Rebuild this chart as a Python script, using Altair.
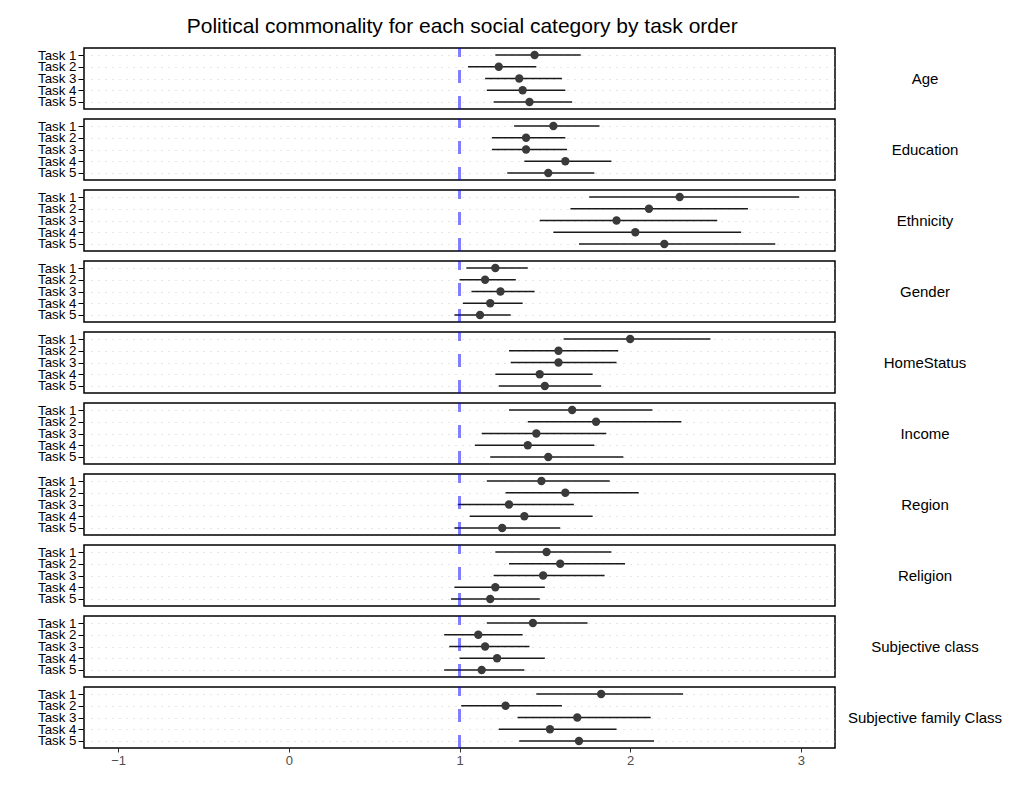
import altair as alt
import pandas as pd

# Social categories (one panel each) and task order within a panel
categories = [
    "Age", "Education", "Ethnicity", "Gender", "HomeStatus",
    "Income", "Region", "Religion", "Subjective class",
    "Subjective family Class",
]
tasks = ["Task 1", "Task 2", "Task 3", "Task 4", "Task 5"]

# Point estimates, one list per category (Task 1..5)
estimate = [
    [1.44, 1.23, 1.35, 1.37, 1.41],
    [1.55, 1.39, 1.39, 1.62, 1.52],
    [2.29, 2.11, 1.92, 2.03, 2.20],
    [1.21, 1.15, 1.24, 1.18, 1.12],
    [2.00, 1.58, 1.58, 1.47, 1.50],
    [1.66, 1.80, 1.45, 1.40, 1.52],
    [1.48, 1.62, 1.29, 1.38, 1.25],
    [1.51, 1.59, 1.49, 1.21, 1.18],
    [1.43, 1.11, 1.15, 1.22, 1.13],
    [1.83, 1.27, 1.69, 1.53, 1.70],
]
# Lower confidence bounds
lower = [
    [1.21, 1.05, 1.15, 1.16, 1.20],
    [1.32, 1.19, 1.19, 1.38, 1.28],
    [1.76, 1.65, 1.47, 1.55, 1.70],
    [1.04, 1.00, 1.07, 1.02, 0.97],
    [1.61, 1.29, 1.30, 1.21, 1.23],
    [1.29, 1.40, 1.13, 1.09, 1.18],
    [1.16, 1.27, 0.99, 1.06, 0.97],
    [1.21, 1.29, 1.20, 0.97, 0.95],
    [1.16, 0.91, 0.94, 1.00, 0.91],
    [1.45, 1.01, 1.34, 1.23, 1.35],
]
# Upper confidence bounds
upper = [
    [1.71, 1.45, 1.60, 1.62, 1.66],
    [1.82, 1.62, 1.63, 1.89, 1.79],
    [2.99, 2.69, 2.51, 2.65, 2.85],
    [1.40, 1.33, 1.44, 1.37, 1.30],
    [2.47, 1.93, 1.92, 1.78, 1.83],
    [2.13, 2.30, 1.86, 1.79, 1.96],
    [1.88, 2.05, 1.67, 1.78, 1.59],
    [1.89, 1.97, 1.85, 1.50, 1.47],
    [1.75, 1.37, 1.41, 1.50, 1.38],
    [2.31, 1.60, 2.12, 1.92, 2.14],
]
x_ticks = [-1, 0, 1, 2, 3]
reference_value = 1

rows = []
for ci, cat in enumerate(categories):
    for ti, task in enumerate(tasks):
        rows.append({
            "category": cat,
            "task": task,
            "estimate": estimate[ci][ti],
            "lower": lower[ci][ti],
            "upper": upper[ci][ti],
        })
df = pd.DataFrame(rows)

FONT = "Liberation Sans"
PANEL_W = 751
PANEL_H = 61

x_scale = alt.Scale(domain=[-1.2, 3.2], nice=False, zero=False)
y_scale = alt.Scale(type="point", domain=tasks, padding=0.6)

x_axis = alt.Axis(
    values=x_ticks, grid=False, domain=False, tickSize=4, tickColor="#333333",
    labelFontSize=13, labelColor="#4d4d4d", labelFont=FONT, labelPadding=2,
    title=None,
)
y_axis = alt.Axis(
    grid=True, gridDash=[1, 6], gridColor="#cfcfcf", gridWidth=1,
    domain=False, tickSize=6, tickColor="black", tickWidth=1,
    labelFontSize=13.3, labelColor="black", labelFont=FONT, labelPadding=2,
    title=None,
)

base = alt.Chart().encode(
    y=alt.Y("task:N", scale=y_scale, axis=y_axis),
)

intervals = base.mark_rule(color="#1a1a1a", strokeWidth=1.6).encode(
    x=alt.X("lower:Q", scale=x_scale, axis=x_axis),
    x2="upper:Q",
)

points = base.mark_circle(size=70, color="#3a3a3a", opacity=1).encode(
    x=alt.X("estimate:Q", scale=x_scale, axis=x_axis),
)

# One row per panel for the per-panel decorations
first_task = alt.Chart().transform_filter(alt.datum.task == tasks[0])

# Dashed reference line at 1, drawn bottom to top
ref_line = (
    first_task
    .transform_calculate(ref=str(reference_value))
    .mark_rule(color="#0000ff", opacity=0.5, strokeWidth=3, strokeDash=[13, 13])
    .encode(
        x=alt.X("ref:Q", scale=x_scale, axis=x_axis),
        y=alt.value(PANEL_H),
        y2=alt.value(0),
    )
)

# Category label to the right of each panel
strip_label = first_task.mark_text(
    font=FONT, fontSize=15, color="black", align="center", baseline="middle",
).encode(
    text="category:N",
    x=alt.value(PANEL_W + 90),
    y=alt.value(PANEL_H / 2),
)

chart = (
    alt.layer(intervals, points, ref_line, strip_label, data=df)
    .properties(width=PANEL_W, height=PANEL_H)
    .facet(
        row=alt.Row(
            "category:N",
            sort=categories,
            header=alt.Header(title=None, labels=False),
        ),
        spacing=10,
        bounds="flush",
    )
    .properties(
        title=alt.TitleParams(
            "Political commonality for each social category by task order",
            fontSize=21, font=FONT, fontWeight="normal", color="black",
            anchor="middle", offset=9, dx=-58,
        ),
        padding={"left": 37, "top": 15, "right": 5, "bottom": 5},
    )
    .configure_view(stroke="black", strokeWidth=1.5)
)

chart.save("out.html", embed_options={"renderer": "svg", "actions": False})
